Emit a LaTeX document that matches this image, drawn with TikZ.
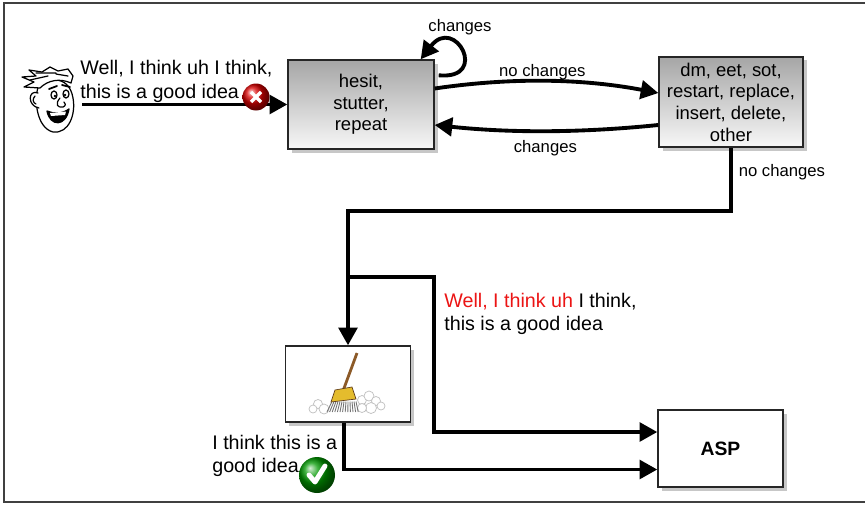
\documentclass[tikz,border=0pt]{standalone}
\usepackage{fontspec}
\setmainfont{Liberation Sans}
\usepackage{tikz}
\usetikzlibrary{calc,positioning,arrows.meta,shadows,shadings}
\usepackage{xcolor}
\definecolor{myred}{RGB}{235,20,20}
\definecolor{mybrown}{RGB}{140,90,40}
\definecolor{mygold}{RGB}{228,188,45}

\begin{document}
\begin{tikzpicture}[x=0.02cm, y=-0.02cm,
  stagebox/.style={draw=black!85, thick, rectangle, align=center,
    font=\fontsize{10.5}{12.3}\selectfont,
    drop shadow={shadow xshift=2pt, shadow yshift=-2pt, fill=black!22, opacity=1}},
  greybox/.style={stagebox, top color=black!35, bottom color=black!3},
  plainbox/.style={stagebox, fill=white},
  arr/.style={line width=2.2pt, -{Triangle[length=10pt,width=10.5pt]}},
  lbl/.style={font=\fontsize{9.5}{11}\selectfont},
  speech/.style={font=\fontsize{11.2}{13.3}\selectfont, align=left, anchor=west, inner sep=0pt},
  icon/.style={circle, inner sep=0pt},
  face/.style={line width=0.7pt, line join=round, line cap=round}]
  \useasboundingbox (0,0) rectangle (865,504);

  % frame
  \draw[black!75, line width=1pt] (865,3) -- (4,3) -- (4,502) -- (865,502);

  % boxes
  \node[greybox, minimum width=2.92cm, minimum height=1.78cm] (hesit) at (361,104.5) {hesit,\\stutter,\\repeat};
  \node[greybox, minimum width=2.88cm, minimum height=1.8cm] (dm) at (731,102) {dm, eet, sot,\\restart, replace,\\insert, delete,\\other};
  \node[plainbox, minimum width=2.5cm, minimum height=1.52cm] (broom) at (348,384) {};
  \node[plainbox, minimum width=2.5cm, minimum height=1.54cm, font=\fontsize{11}{13}\selectfont\bfseries] (asp) at (720.5,448.5) {ASP};

  % speaker
  \filldraw[face, fill=white] (39,84) .. controls (33,100) and (37,128) .. (53,132) .. controls (69,134) and (76,114) .. (73,98) .. controls (71,86) and (64,80) .. (55,80) .. controls (48,80) and (42,81) .. cycle;
  \filldraw[face, fill=white] (38,93) .. controls (28,89) and (27,106) .. (39,108);
  \draw[face] (35,96) .. controls (32,99) and (33,103) .. (36,104);
  \filldraw[face, fill=white] (40,88) -- (24,87) -- (34,82) -- (22,77) -- (36,76) -- (29,70) -- (42,72) -- (50,67) -- (58,71) -- (68,69) -- (73,76) -- (71,83) .. controls (60,78) and (48,80) .. cycle;
  \draw[face] (30,80) -- (48,76) (36,73) -- (56,73) (56,74) -- (68,76);
  \draw[face, line width=1pt] (49,89) -- (57,86) (62,85) -- (70,87);
  \draw[face] (54,95) ellipse (3 and 4) (66,94) ellipse (3 and 4);
  \fill (55,96) circle (1.3) (65,95) circle (1.3);
  \draw[face] (60,98) .. controls (55,104) and (57,108) .. (63,107) .. controls (66,106) and (66,103) .. (64,102);
  \filldraw[face] (47,111) .. controls (50,127) and (66,127) .. (69,109) .. controls (62,114) and (54,114) .. cycle;
  \fill[white] (50,113) -- (66,111.5) -- (65,115) -- (51,116) -- cycle;

  % broom
  \foreach \cx/\cy/\r in {318/404/4.5, 324/409/5, 313/409/4, 362/400/4.5, 369/396/5, 376/401/4.5, 371/408/5.5, 381/406/4, 362/408/4.5}
    \filldraw[draw=black!25, fill=white, line width=0.4pt] (\cx,\cy) circle (\r);
  \draw[mybrown, line width=1.6pt] (357,353) -- (343,391);
  \foreach \i in {0,...,12}
    \draw[black!55, line width=0.5pt] (332+2*\i,401.5) -- (327+2.6*\i,412);
  \filldraw[fill=mygold, draw=mybrown!70!black, line width=0.4pt] (335,390) -- (352,387) -- (356,399) -- (331,402) -- cycle;

  % texts
  \node[speech] (said) at (80,81.5) {Well, I think uh I think,\\this is a good idea};
  \node[speech] (marked) at (444,314) {\textcolor{myred}{Well, I think uh} I think,\\this is a good idea};
  \node[speech] (clean) at (212,456) {I think this is a\\good idea};

  % connectors
  \coordinate (spk) at (82,104.5);
  \draw[arr] (spk) -- (hesit.west);
  \draw[arr] ($(hesit.north east)+(4,16)$) .. controls (490,80) and (455,15) .. ($(hesit.north east)+(-14,0)$);
  \node[lbl] (loop) at (460,27) {changes};
  \draw[arr] ($(hesit.east)+(0,-16)$) .. controls (520,76) and (590,80) .. ($(dm.west)+(0,-9)$) node[lbl, midway, above=-4pt, xshift=-6pt] {no changes};
  \draw[arr] ($(dm.west)+(0,23)$) .. controls (580,133) and (510,133) .. ($(hesit.east)+(0,20.5)$) node[lbl, midway, below=1pt] {changes};
  \draw[arr] (dm.south) -- ++(0,63) node[lbl, pos=0.38, right] {no changes} -| (broom.north);
  \coordinate (split) at (348,277);
  \draw[arr] (split) -- ++(86,0) |- ($(asp.west)+(0,-16.5)$);
  \draw[arr] ($(broom.south)+(-4,0)$) |- ($(asp.west)+(0,21)$);

  % marks
  \node[icon, ball color=red!85!black, minimum size=0.54cm] (wrong) at (256,97) {};
  \draw[white, line width=2pt] ($(wrong)+(-5,-5)$) -- ($(wrong)+(5,5)$) ($(wrong)+(5,-5)$) -- ($(wrong)+(-5,5)$);
  \node[icon, ball color=green!60!black, minimum size=0.72cm] (right) at (317,475) {};
  \draw[white, line width=2.8pt, line cap=round, line join=round] ($(right)+(-8,0)$) -- ($(right)+(-2,7)$) -- ($(right)+(8,-9)$);
\end{tikzpicture}
\end{document}
